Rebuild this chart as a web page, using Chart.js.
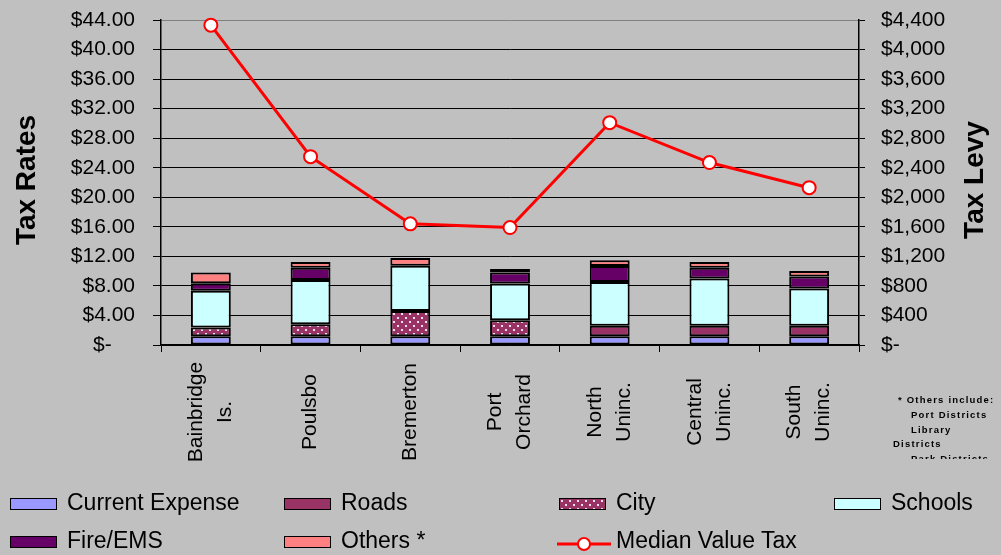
<!DOCTYPE html>
<html>
<head>
<meta charset="utf-8">
<script src="https://cdn.jsdelivr.net/npm/chart.js@4.4.0/dist/chart.umd.min.js"></script>
<style>
  html, body { margin: 0; padding: 0; background: #c0c0c0; }
  #wrap { position: relative; width: 1001px; height: 555px; overflow: hidden;
          font-family: "Liberation Sans", Arial, sans-serif; background: #c0c0c0; }
  #chart { position: absolute; left: 0; top: 0; }
  .key { position: absolute; font-size: 23px; line-height: 23px; color: #000; white-space: nowrap; }
  .sw { position: absolute; left: 0; width: 45px; height: 10px; border: 1.5px solid #000; }
  #note { position: absolute; left: 893px; top: 393px; width: 120px; height: 66px; overflow: hidden;
          font-size: 9.5px; font-weight: bold; letter-spacing: 1.2px; line-height: 14.8px; white-space: nowrap; }
</style>
</head>
<body>
<div id="wrap">
  <canvas id="chart" width="1001" height="555"></canvas>
  <div id="note">
    <div style="padding-left:5px">* Others include:</div>
    <div style="padding-left:18px">Port Districts</div>
    <div style="padding-left:18px">Library</div>
    <div>Districts</div>
    <div style="padding-left:18px">Park Districts</div>
  </div>
</div>
<script>
const categories = [['Bainbridge', 'Is.'], ['Poulsbo'], ['Bremerton'], ['Port', 'Orchard'],
                    ['North', 'Uninc.'], ['Central', 'Uninc.'], ['South', 'Uninc.']];
const currentExpense = [1.19, 1.19, 1.19, 1.19, 1.19, 1.19, 1.19];
const roads          = [0, 0, 0, 0, 1.40, 1.40, 1.40];
const city           = [1.17, 1.62, 3.43, 2.16, 0, 0, 0];
const schools        = [5.00, 6.00, 6.12, 4.96, 5.95, 6.40, 5.05];
const fireEms        = [0.99, 1.66, 0, 1.49, 2.16, 1.48, 1.62];
const others         = [1.45, 0.77, 1.04, 0.50, 0.76, 0.77, 0.77];
const medianValueTax = [4330, 2550, 1640, 1590, 3010, 2470, 2130];
const rateTicks = ['$-    ', '$4.00', '$8.00', '$12.00', '$16.00', '$20.00', '$24.00',
                   '$28.00', '$32.00', '$36.00', '$40.00', '$44.00'];
const levyTicks = ['$-', '$400', '$800', '$1,200', '$1,600', '$2,000', '$2,400',
                   '$2,800', '$3,200', '$3,600', '$4,000', '$4,400'];

const FONT = '"Liberation Sans", Arial, sans-serif';

// dotted fill for City
function dotPattern() {
  const c = document.createElement('canvas');
  c.width = 8; c.height = 8;
  const g = c.getContext('2d');
  g.fillStyle = '#993366';
  g.fillRect(0, 0, 8, 8);
  g.fillStyle = '#f4e0ea';
  g.fillRect(1, 1, 2, 2);
  g.fillRect(5, 5, 2, 2);
  return c;
}
const patCanvas = dotPattern();
const cityFill = document.getElementById('chart').getContext('2d').createPattern(patCanvas, 'repeat');

function barSet(label, data, color) {
  return { type: 'bar', label: label, data: data, backgroundColor: color, borderColor: '#000',
           borderWidth: 2, borderSkipped: false, yAxisID: 'y', stack: 's', order: 1,
           barPercentage: 0.4, categoryPercentage: 1 };
}

// fixed box sizes so the plot area sits where the original's does
function fixWidth(w) {
  return s => { s.width = w; s.paddingTop = 0; s.paddingBottom = 0; };
}

const extraText = {
  id: 'extraText',
  afterDraw(chart) {
    const ctx = chart.ctx;
    const xs = chart.scales.x;
    ctx.save();
    ctx.fillStyle = '#000';
    ctx.font = '21px ' + FONT;
    ctx.textAlign = 'center';
    ctx.textBaseline = 'middle';
    categories.forEach((lines, i) => {
      const x = xs.getPixelForValue(i);
      ctx.save();
      ctx.translate(x, 412);
      ctx.rotate(-Math.PI / 2);
      lines.forEach((t, j) => ctx.fillText(t, 0, (j - (lines.length - 1) / 2) * 29));
      ctx.restore();
    });
    ctx.font = 'bold 28px ' + FONT;
    ctx.textBaseline = 'alphabetic';
    [['Tax Rates', 35], ['Tax Levy', 983]].forEach(([t, bx]) => {
      ctx.save();
      ctx.translate(bx, 180);
      ctx.rotate(-Math.PI / 2);
      ctx.fillText(t, 0, 0);
      ctx.restore();
    });
    ctx.restore();
  }
};

const chart = new Chart(document.getElementById('chart'), {
  data: {
    labels: categories,
    datasets: [
      barSet('Current Expense', currentExpense, '#9999ff'),
      barSet('Roads', roads, '#993366'),
      barSet('City', city, cityFill),
      barSet('Schools', schools, '#ccffff'),
      barSet('Fire/EMS', fireEms, '#660066'),
      barSet('Others *', others, '#ff8080'),
      { type: 'line', label: 'Median Value Tax', data: medianValueTax, yAxisID: 'y1', order: 0,
        borderColor: '#ff0000', borderWidth: 3, tension: 0, clip: false,
        pointRadius: 6.5, pointBackgroundColor: '#ffffff', pointBorderColor: '#ff0000', pointBorderWidth: 2 }
    ]
  },
  options: {
    responsive: false,
    animation: false,
    layout: { padding: { top: 20, left: 0, right: 0, bottom: 0 } },
    plugins: { legend: { display: false }, tooltip: { enabled: false } },
    scales: {
      x: {
        type: 'category', offset: true, stacked: true,
        grid: { offset: true, drawOnChartArea: false, drawTicks: true, tickLength: 7, color: '#000' },
        border: { display: true, color: '#000', width: 1.5 },
        ticks: { display: false },
        afterFit(s) { s.height = 210; }
      },
      y: {
        position: 'left', stacked: true, min: 0, max: 44,
        ticks: { stepSize: 4, padding: 18, color: '#000', font: { family: FONT, size: 21 },
                 callback: (v, i) => rateTicks[i] },
        grid: { color: c => c.tick && c.tick.value === 44 ? '#808080' : '#000', tickColor: '#000',
                lineWidth: 1, tickLength: 8 },
        border: { display: true, color: '#000', width: 1.5 },
        afterFit: fixWidth(161)
      },
      y1: {
        position: 'right', min: 0, max: 4400,
        ticks: { stepSize: 400, padding: 16, color: '#000', font: { family: FONT, size: 21 },
                 callback: (v, i) => levyTicks[i] },
        grid: { drawOnChartArea: false, color: '#000', tickLength: 6 },
        border: { display: true, color: '#000', width: 1.5 },
        afterFit: fixWidth(142)
      }
    }
  },
  plugins: [extraText]
});

// legend laid out as in the original: four columns, two rows
const wrap = document.getElementById('wrap');
const keyCols = [10, 284, 559, 834];
const keyRows = [491, 528.5];
chart.data.datasets.forEach((ds, i) => {
  const el = document.createElement('div');
  el.className = 'key';
  el.style.left = keyCols[i % 4] + 'px';
  el.style.top = keyRows[Math.floor(i / 4)] + 'px';
  let sw;
  if (ds.type === 'line') {
    sw = document.createElement('canvas');
    sw.width = 54; sw.height = 16;
    sw.style.cssText = 'position:absolute;left:-2px;top:7px;';
    const g = sw.getContext('2d');
    g.strokeStyle = ds.borderColor; g.lineWidth = 3;
    g.beginPath(); g.moveTo(0, 8); g.lineTo(54, 8); g.stroke();
    g.fillStyle = '#fff'; g.lineWidth = 2;
    g.beginPath(); g.arc(27, 8, 6, 0, Math.PI * 2); g.fill(); g.stroke();
  } else {
    sw = document.createElement('div');
    sw.className = 'sw';
    sw.style.top = '7px';
    if (ds.label === 'City') sw.style.backgroundImage = 'url(' + patCanvas.toDataURL() + ')';
    else sw.style.background = ds.backgroundColor;
  }
  el.appendChild(sw);
  const t = document.createElement('span');
  t.textContent = ds.label;
  t.style.marginLeft = '57px';
  el.appendChild(t);
  wrap.appendChild(el);
});
</script>
</body>
</html>
